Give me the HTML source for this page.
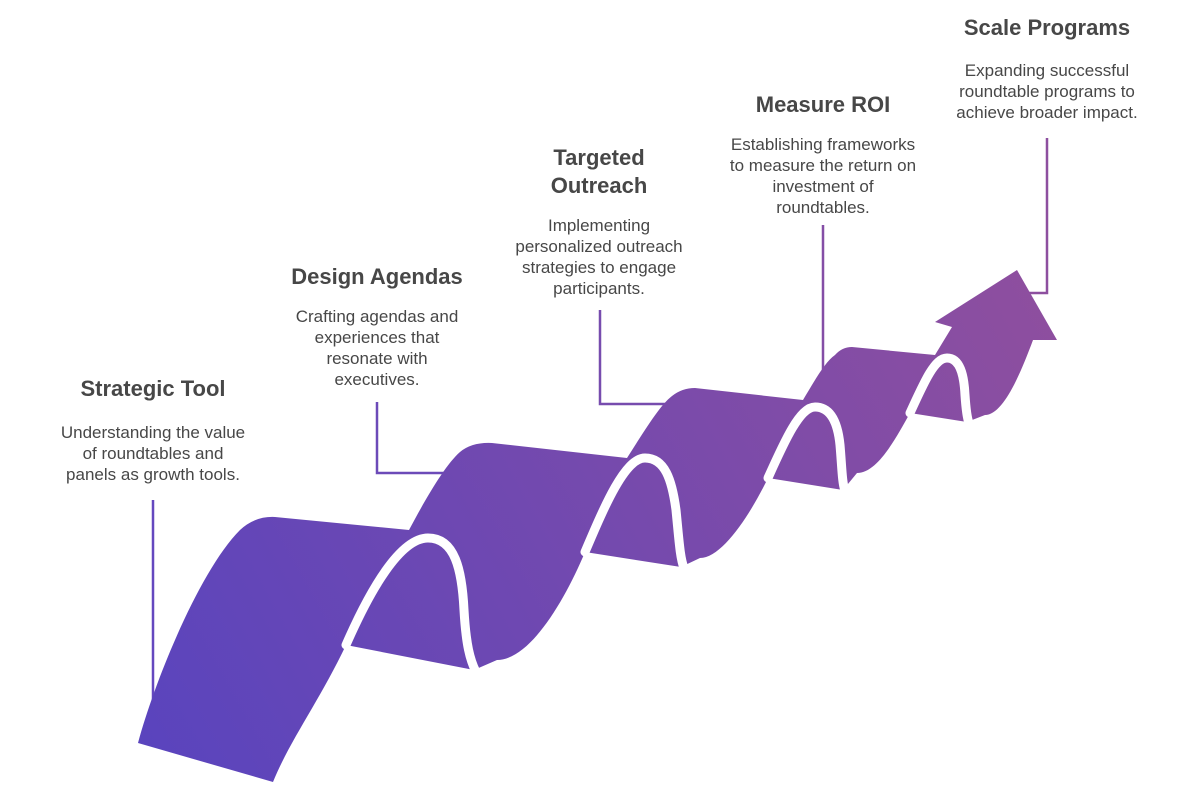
<!DOCTYPE html>
<html><head><meta charset="utf-8"><style>
html,body{margin:0;padding:0;background:#fff;}
svg{display:block;}
.t{font-family:"Liberation Sans",sans-serif;font-weight:bold;font-size:22px;fill:#474747;text-anchor:middle;}
.b{font-family:"Liberation Sans",sans-serif;font-size:17px;fill:#474747;text-anchor:middle;}
</style></head><body>
<svg width="1200" height="793" viewBox="0 0 1200 793" xmlns="http://www.w3.org/2000/svg">
<defs>
<linearGradient id="g" gradientUnits="userSpaceOnUse" x1="140" y1="780" x2="1057" y2="270">
<stop offset="0" stop-color="#5944BE"/><stop offset="1" stop-color="#8F4F9E"/>
</linearGradient>
</defs>
<g fill="none" stroke-width="2.5">
<path d="M153,500 V700" stroke="#6548BF"/>
<path d="M377,402 V473 H447" stroke="#6C4AB8"/>
<path d="M600,310 V404 H667" stroke="#774CAE"/>
<path d="M823,225 V372" stroke="#844EA6"/>
<path d="M1047,138 V293 H1028" stroke="#8D4F9F"/>
</g>
<path fill="url(#g)" d="M138,743 C155,680 200,570 240,530 Q255,516 275,517 L409,530
C425,500 445,465 460,452 Q472,442 492,443 L627,458
C645,430 660,405 672,396 Q682,388 695,388 L803,400
C815,380 825,362 835,355 Q842,347 852,347 L935,355 L952,327 L935,322 L1017,270 L1057,340 L1033,340
C1020,375 1003,415 985,415 L967,422 L910,413
C895,440 877,473 857,473 L843,490 L768,478
C750,515 722,558 700,558 L681,567 L585,552
C565,600 530,660 497,660 L474,670 L346,645
C320,700 290,740 273,782 Z"/>
<g fill="none" stroke="#fff" stroke-width="9" stroke-linecap="round">
<path d="M346,645 C370,590 400,538 428,538 C455,538 462,570 464,610 C466,645 470,660 476,672"/>
<path d="M585,552 C605,505 625,458 645,458 C665,458 672,480 676,510 C679,540 680,558 684,568"/>
<path d="M768,478 C785,440 800,407 815,407 C832,407 838,425 840,445 C842,468 842,482 845,491"/>
<path d="M910,413 C925,380 935,358 947,358 C960,358 964,375 965,395 C966,410 967,418 969,423"/>
</g>
<text class="t" x="153" y="396">Strategic Tool</text>
<text class="b" x="153" y="438">Understanding the value</text>
<text class="b" x="153" y="459">of roundtables and</text>
<text class="b" x="153" y="480">panels as growth tools.</text>
<text class="t" x="377" y="284">Design Agendas</text>
<text class="b" x="377" y="322">Crafting agendas and</text>
<text class="b" x="377" y="343">experiences that</text>
<text class="b" x="377" y="364">resonate with</text>
<text class="b" x="377" y="385">executives.</text>
<text class="t" x="599" y="165">Targeted</text>
<text class="t" x="599" y="193">Outreach</text>
<text class="b" x="599" y="231">Implementing</text>
<text class="b" x="599" y="252">personalized outreach</text>
<text class="b" x="599" y="273">strategies to engage</text>
<text class="b" x="599" y="294">participants.</text>
<text class="t" x="823" y="112">Measure ROI</text>
<text class="b" x="823" y="150">Establishing frameworks</text>
<text class="b" x="823" y="171">to measure the return on</text>
<text class="b" x="823" y="192">investment of</text>
<text class="b" x="823" y="213">roundtables.</text>
<text class="t" x="1047" y="35">Scale Programs</text>
<text class="b" x="1047" y="76">Expanding successful</text>
<text class="b" x="1047" y="97">roundtable programs to</text>
<text class="b" x="1047" y="118">achieve broader impact.</text>
</svg>
</body></html>
